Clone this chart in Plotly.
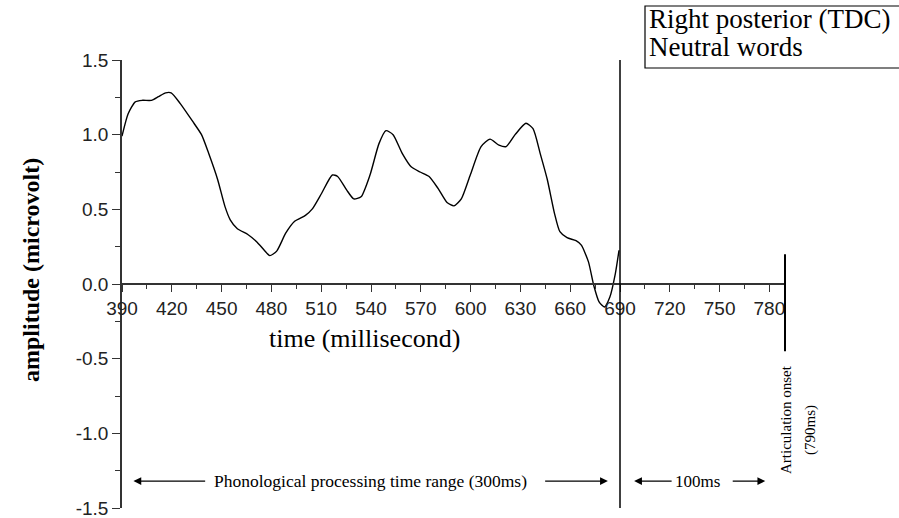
import plotly.graph_objects as go

# ---- data ----
time_ms = [390, 393.7, 398, 402.3, 407.7, 412, 416.3, 419.6, 425, 432.5, 437.9, 442.2,
           447.6, 452, 455.2, 459.5, 466, 471.4, 475.7, 479, 483.2, 488.6, 494, 500.5,
           504.8, 510.2, 516.7, 519.9, 525.3, 529.6, 534, 539.4, 544.8, 549, 553.3,
           558.8, 564.2, 569.6, 575, 580.4, 585.8, 590, 594.4, 599.8, 606.3, 611.7,
           617.1, 621.4, 626.8, 633.3, 637.6, 641.9, 646.2, 650.6, 653.8, 658.1, 663.5,
           666.7, 671, 674.2, 677.4, 680.6, 683.9, 687.2, 689.4]
amplitude = [0.99, 1.14, 1.22, 1.23, 1.23, 1.255, 1.28, 1.28, 1.21, 1.09, 1.0, 0.875,
             0.70, 0.52, 0.43, 0.37, 0.33, 0.28, 0.226, 0.19, 0.22, 0.34, 0.42, 0.46,
             0.505, 0.606, 0.73, 0.72, 0.63, 0.57, 0.584, 0.73, 0.94, 1.027, 1.0,
             0.875, 0.785, 0.75, 0.72, 0.64, 0.546, 0.523, 0.57, 0.73, 0.92, 0.97,
             0.93, 0.92, 1.0, 1.076, 1.04, 0.875, 0.70, 0.47, 0.35, 0.31, 0.29,
             0.26, 0.148, -0.01, -0.12, -0.154, -0.087, 0.07, 0.226]
x_tick_vals = list(range(390, 781, 30))
x_tick_text = [str(v) for v in x_tick_vals]
y_tick_vals = [-1.5, -1.0, -0.5, 0.0, 0.5, 1.0, 1.5]
y_tick_text = ["-1.5", "-1.0", "-0.5", "0.0", "0.5", "1.0", "1.5"]
phon_end_ms = 690
onset_ms = 790

SERIF = "Liberation Serif, Times New Roman, serif"
SANS = "Liberation Sans, Arial, sans-serif"

L, R, T, B, W, H = 122, 113, 60, 10, 899, 518
PW, PH = W - L - R, H - T - B
def px(xp):
    return (xp - L) / PW
def py(yp):
    return (H - B - yp) / PH

fig = go.Figure()
fig.add_trace(go.Scatter(x=time_ms, y=amplitude, mode="lines",
                         line=dict(color="black", width=1.4, shape="spline", smoothing=0.6),
                         hoverinfo="skip", showlegend=False, cliponaxis=False))

# vertical line at end of phonological range
fig.add_shape(type="line", xref="x", yref="y", x0=phon_end_ms, x1=phon_end_ms, y0=-1.5, y1=1.5,
              line=dict(color="black", width=1.5))
# articulation onset bar
fig.add_shape(type="line", xref="x", yref="y", x0=onset_ms, x1=onset_ms, y0=0.2, y1=-0.45,
              line=dict(color="black", width=4))

# legend-like box (extends past right edge)
fig.add_shape(type="rect", xref="paper", yref="paper", x0=px(645), x1=px(930), y0=py(68), y1=py(6),
              line=dict(color="black", width=1.2), fillcolor="white", layer="above")

ann = []
ann.append(dict(xref="paper", yref="paper", x=px(647), y=py(19), xanchor="left", yanchor="middle",
                text="Right posterior (TDC)", showarrow=False, font=dict(family=SERIF, size=27, color="black")))
ann.append(dict(xref="paper", yref="paper", x=px(647), y=py(47), xanchor="left", yanchor="middle",
                text="Neutral words", showarrow=False, font=dict(family=SERIF, size=27, color="black")))

# axis titles
ann.append(dict(xref="x", yref="y", x=536, y=-0.365, text="time (millisecond)", showarrow=False,
                xanchor="center", yanchor="middle",
                font=dict(family=SERIF, size=26, color="black")))
ann.append(dict(xref="paper", yref="paper", x=px(31), y=py(270), text="<b>amplitude (microvolt)</b>",
                xanchor="center", yanchor="middle",
                textangle=-90, showarrow=False, font=dict(family=SERIF, size=24, color="black")))

# arrows
arrow_y = -1.32
def arrow(head, tail):
    return dict(xref="x", yref="y", axref="x", ayref="y", x=head, y=arrow_y, ax=tail, ay=arrow_y,
                text="", showarrow=True, arrowhead=2, arrowsize=1.2, arrowwidth=1.3, arrowcolor="black")
ann.append(arrow(396.9, 441))
ann.append(arrow(682.7, 644))
ann.append(arrow(698.5, 722))
ann.append(arrow(777.5, 757))
ann.append(dict(xref="x", yref="y", x=539.5, y=arrow_y, text="Phonological processing time range (300ms)",
                xanchor="center", yanchor="middle",
                showarrow=False, font=dict(family=SERIF, size=17.5, color="black")))
ann.append(dict(xref="x", yref="y", x=736.5, y=arrow_y, text="100ms",
                xanchor="center", yanchor="middle",
                showarrow=False, font=dict(family=SERIF, size=17, color="black")))
ann.append(dict(xref="paper", yref="paper", x=px(786), y=py(420),
                xanchor="center", yanchor="middle",
                text="Articulation onset", textangle=-90, showarrow=False,
                font=dict(family=SERIF, size=15, color="black")))
ann.append(dict(xref="paper", yref="paper", x=px(810), y=py(430),
                xanchor="center", yanchor="middle",
                text="(790ms)", textangle=-90, showarrow=False,
                font=dict(family=SERIF, size=15, color="black")))

fig.update_layout(
    width=W, height=H,
    margin=dict(l=L, r=R, t=T, b=B),
    paper_bgcolor="white", plot_bgcolor="white",
    showlegend=False,
    annotations=ann,
    xaxis=dict(range=[390, 790], anchor="free", position=0.5, automargin=False,
               showline=True, linecolor="#333", linewidth=1.5,
               tickmode="array", tickvals=x_tick_vals, ticktext=x_tick_text,
               ticks="outside", ticklen=7, tickwidth=1.3, tickcolor="#333",
               minor=dict(dtick=15, ticks="outside", ticklen=4, tickwidth=1.2, tickcolor="#333"),
               showgrid=False, zeroline=False, ticklabeloverflow="allow",
               tickfont=dict(family=SANS, size=19, color="#222")),
    yaxis=dict(range=[-1.5, 1.5], showline=True, linecolor="#333", linewidth=1.5, automargin=False,
               tickmode="array", tickvals=y_tick_vals, ticktext=y_tick_text,
               ticks="outside", ticklen=8, tickwidth=1.3, tickcolor="#333",
               minor=dict(dtick=0.25, ticks="outside", ticklen=5, tickwidth=1.2, tickcolor="#333"),
               showgrid=False, zeroline=False, ticklabeloverflow="allow",
               tickfont=dict(family=SANS, size=19, color="#222")),
)

fig.write_html("out.html", config={"displayModeBar": False},
               post_script="document.body.style.margin='0';document.body.style.overflow='hidden';")
